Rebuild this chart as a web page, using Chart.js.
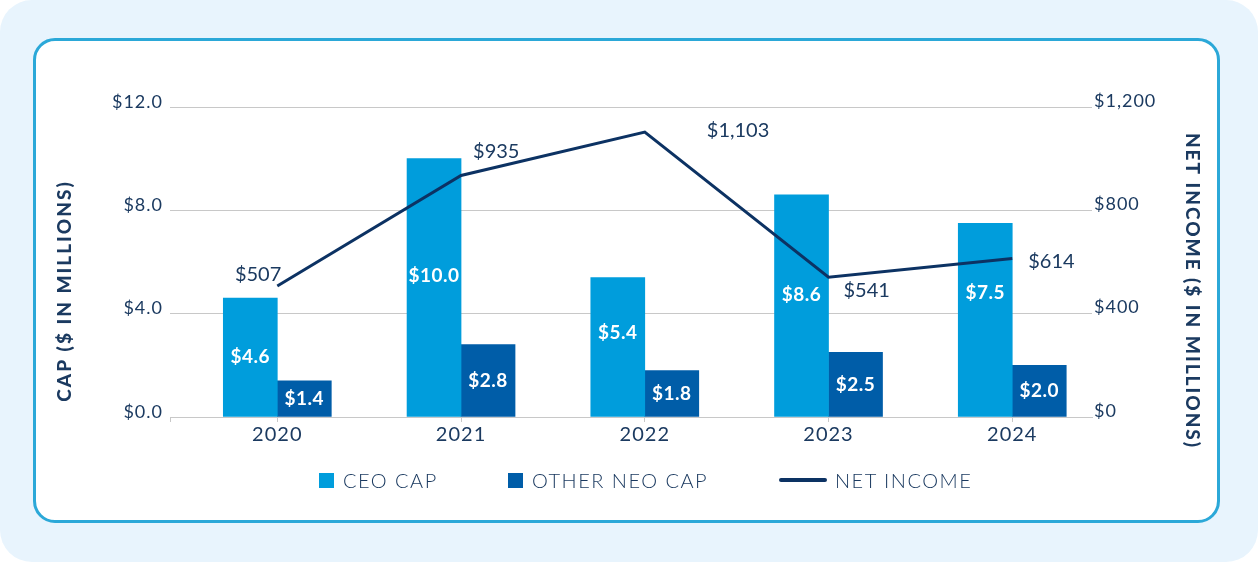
<!DOCTYPE html>
<html>
<head>
<meta charset="utf-8">
<title>CAP vs Net Income</title>
<script src="https://cdn.jsdelivr.net/npm/chart.js@4.4.1/dist/chart.umd.min.js"></script>
<style>
    html, body { margin: 0; padding: 0; background: #ffffff; }
    body { width: 1258px; height: 562px; position: relative; overflow: hidden; font-family: Lato, sans-serif; }
    #bg { position: absolute; left: 0; top: 0; width: 1258px; height: 562px; background: #e8f4fd; border-radius: 32px; }
    #card { position: absolute; left: 33px; top: 38px; width: 1187px; height: 485px; box-sizing: border-box;
            border: 3px solid #2ba8d8; border-radius: 22px; background: #ffffff; }
    #chart { position: absolute; left: 0; top: 0; }
    #legend { position: absolute; left: 0; top: 468px; width: 1258px; height: 24px; }
    .item { position: absolute; top: 0; height: 24px; display: flex; align-items: center;
            color: #1b3a60; font-size: 20px; font-weight: 300; letter-spacing: 1.5px; white-space: nowrap; }
    .swatch { width: 15px; height: 15px; margin-right: 9px; }
    .stroke { width: 48px; height: 4px; border-radius: 2px; margin-right: 8px; }
</style>
</head>
<body>
<div id="bg"></div>
<div id="card"></div>
<canvas id="chart" width="1258" height="562"></canvas>
<div id="legend"></div>

<script>
// Dados do gráfico
const years = ['2020', '2021', '2022', '2023', '2024'];
const ceoCap = [4.6, 10.0, 5.4, 8.6, 7.5];
const otherNeoCap = [1.4, 2.8, 1.8, 2.5, 2.0];
const netIncome = [507, 935, 1103, 541, 614];
const capTicks = [0, 4, 8, 12];
const incomeTicks = [0, 400, 800, 1200];
const seriesLabels = ['CEO CAP', 'OTHER NEO CAP', 'NET INCOME'];

// Cores
const CEO_BLUE = '#009ddc';
const NEO_BLUE = '#005da8';
const NAVY = '#0c3263';
const TEXT = '#1b3a60';
const GRID = '#c8c8c8';

// Ajustes finos de posição dos rótulos (estilo, não dados)
const ceoLabelNudge = [0, -12, -14, -11, -27];
const incomeLabelOffset = [[4, -11], [12, -24], [62, -2], [15, 13], [16, 3]];
const incomeLabelAlign = ['right', 'left', 'left', 'left', 'left'];
const legendLeft = [319, 508, 779];

const money1 = v => '$' + v.toFixed(1);
const moneyInt = v => '$' + v.toLocaleString('en-US');

// Rótulos dentro das barras e ao lado da linha
const valueLabels = {
    id: 'valueLabels',
    afterDatasetsDraw(chart) {
        const ctx = chart.ctx;
        ctx.save();
        ctx.textBaseline = 'middle';
        ctx.textAlign = 'center';
        ctx.fillStyle = '#ffffff';
        ctx.font = '700 19px Lato';
        ctx.letterSpacing = '0.5px';
        [ceoCap, otherNeoCap].forEach((values, di) => {
            const meta = chart.getDatasetMeta(di);
            meta.data.forEach((bar, i) => {
                const nudge = di === 0 ? ceoLabelNudge[i] : 0;
                ctx.fillText(money1(values[i]), bar.x, (bar.y + bar.base) / 2 + nudge);
            });
        });

        ctx.fillStyle = TEXT;
        ctx.font = '400 20px Lato';
        ctx.letterSpacing = '0px';
        const lineMeta = chart.getDatasetMeta(2);
        lineMeta.data.forEach((pt, i) => {
            ctx.textAlign = incomeLabelAlign[i];
            ctx.fillText(moneyInt(netIncome[i]), pt.x + incomeLabelOffset[i][0], pt.y + incomeLabelOffset[i][1]);
        });
        ctx.restore();
    }
};

// Títulos dos eixos (centralizados na altura total do gráfico, como no original)
const axisTitles = {
    id: 'axisTitles',
    beforeDraw(chart) {
        chart.ctx.letterSpacing = '1px';
    },
    afterDraw(chart) {
        const ctx = chart.ctx;
        const cy = 291;
        ctx.save();
        ctx.font = '900 19px Lato';
        ctx.letterSpacing = '2px';
        ctx.fillStyle = TEXT;
        ctx.textAlign = 'center';
        ctx.textBaseline = 'middle';

        ctx.save();
        ctx.translate(65, cy);
        ctx.rotate(-Math.PI / 2);
        ctx.fillText('CAP ($ IN MILLIONS)', 0, 0);
        ctx.restore();

        ctx.save();
        ctx.translate(1192, cy);
        ctx.rotate(Math.PI / 2);
        ctx.fillText('NET INCOME ($ IN MILLIONS)', 0, 0);
        ctx.restore();

        ctx.restore();
    }
};

const ctx = document.getElementById('chart').getContext('2d');
const chart = new Chart(ctx, {
    type: 'bar',
    data: {
        datasets: [
            {
                label: seriesLabels[0],
                data: ceoCap.map((v, i) => ({ x: i, y: v })),
                backgroundColor: CEO_BLUE,
                yAxisID: 'y',
                order: 1
            },
            {
                label: seriesLabels[1],
                data: otherNeoCap.map((v, i) => ({ x: i, y: v })),
                backgroundColor: NEO_BLUE,
                yAxisID: 'y',
                order: 1
            },
            {
                type: 'line',
                label: seriesLabels[2],
                data: netIncome.map((v, i) => ({ x: i, y: v })),
                borderColor: NAVY,
                backgroundColor: NAVY,
                borderWidth: 3,
                pointRadius: 0,
                tension: 0,
                yAxisID: 'y1',
                order: 0
            }
        ]
    },
    options: {
        responsive: false,
        animation: false,
        barThickness: 54,
        layout: { padding: { top: 107, left: 0, right: 0, bottom: 0 } },
        plugins: {
            legend: { display: false },
            tooltip: { enabled: false }
        },
        scales: {
            x: {
                type: 'linear',
                min: -0.584,
                max: 4.434,
                offset: false,
                afterBuildTicks: s => {
                    s.ticks = [{ value: s.min }].concat(years.map((y, i) => ({ value: i })));
                },
                afterFit: s => { s.height = 145; },
                grid: { display: true, drawOnChartArea: false, drawTicks: true, tickLength: 5, color: GRID, offset: false },
                border: { display: true, color: GRID, width: 1 },
                ticks: {
                    autoSkip: false,
                    maxRotation: 0,
                    padding: 1,
                    color: TEXT,
                    font: { family: 'Lato', size: 20 },
                    callback: v => years[v] ?? ''
                }
            },
            y: {
                position: 'left',
                min: 0,
                max: 12,
                afterBuildTicks: s => { s.ticks = capTicks.map(v => ({ value: v })); },
                afterFit: s => { s.width = 170; },
                grid: { color: GRID, drawTicks: false },
                border: { display: false },
                ticks: {
                    padding: 7,
                    labelOffset: -5,
                    color: TEXT,
                    font: { family: 'Lato', size: 18 },
                    callback: v => money1(v)
                }
            },
            y1: {
                position: 'right',
                min: 0,
                max: 1200,
                afterBuildTicks: s => { s.ticks = incomeTicks.map(v => ({ value: v })); },
                afterFit: s => { s.width = 166; },
                grid: { drawOnChartArea: false, drawTicks: false },
                border: { display: false },
                ticks: {
                    padding: 2,
                    labelOffset: -6,
                    color: TEXT,
                    font: { family: 'Lato', size: 18 },
                    callback: v => moneyInt(v)
                }
            }
        }
    },
    plugins: [valueLabels, axisTitles]
});

// Legenda em HTML, montada a partir dos datasets
const legend = document.getElementById('legend');
chart.data.datasets.forEach((ds, i) => {
    const item = document.createElement('div');
    item.className = 'item';
    item.style.left = legendLeft[i] + 'px';
    const mark = document.createElement('span');
    mark.className = ds.type === 'line' ? 'stroke' : 'swatch';
    mark.style.background = ds.type === 'line' ? ds.borderColor : ds.backgroundColor;
    item.appendChild(mark);
    item.appendChild(document.createTextNode(ds.label));
    legend.appendChild(item);
});
</script>
</body>
</html>
